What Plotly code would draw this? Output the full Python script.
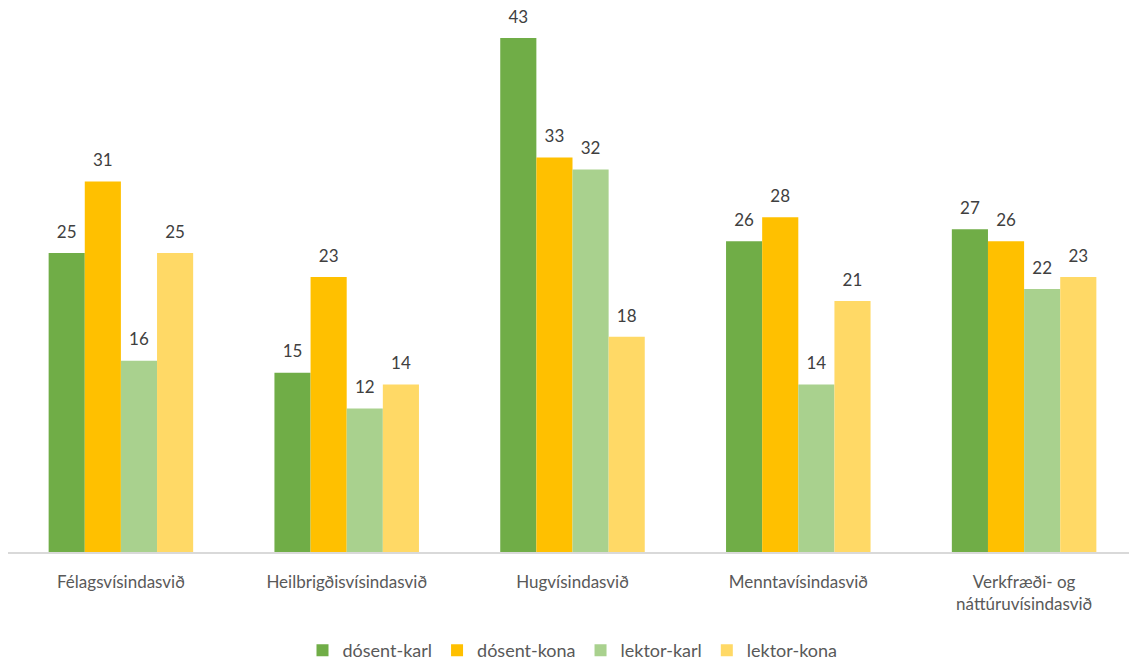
import plotly.graph_objects as go

categories = [
    "Félagsvísindasvið",
    "Heilbrigðisvísindasvið",
    "Hugvísindasvið",
    "Menntavísindasvið",
    "Verkfræði- og<br>náttúruvísindasvið",
]
dosent_karl = [25, 15, 43, 26, 27]
dosent_kona = [31, 23, 33, 28, 26]
lektor_karl = [16, 12, 32, 14, 22]
lektor_kona = [25, 14, 18, 21, 23]

series = [
    ("dósent-karl", dosent_karl, "#70AD47"),
    ("dósent-kona", dosent_kona, "#FFC000"),
    ("lektor-karl", lektor_karl, "#A9D18E"),
    ("lektor-kona", lektor_kona, "#FFD966"),
]

FONT = "Lato, Open Sans, sans-serif"

fig = go.Figure()
for name, vals, color in series:
    fig.add_trace(
        go.Bar(
            x=categories,
            y=vals,
            name=name,
            offsetgroup=name,
            marker=dict(color=color, line=dict(width=0)),
            hoverinfo="skip",
        )
    )
# value labels as grouped text points, so they sit a little higher than bar text
for name, vals, color in series:
    fig.add_trace(
        go.Scatter(
            x=categories,
            y=vals,
            offsetgroup=name,
            mode="markers+text",
            marker=dict(size=16, color="rgba(0,0,0,0)"),
            text=vals,
            textposition="top center",
            textfont=dict(color="#404040", size=17, family=FONT),
            showlegend=False,
            hoverinfo="skip",
            cliponaxis=False,
        )
    )

# page body has an 8px margin, so the figure is sized to fit the window
fig.update_layout(
    barmode="group",
    bargap=0.36,
    bargroupgap=0,
    scattermode="group",
    scattergap=0.36,
    width=1129,
    height=653,
    plot_bgcolor="white",
    paper_bgcolor="white",
    margin=dict(t=6, l=0, r=0, b=109, autoexpand=False),
    font=dict(family=FONT, color="#595959", size=16),
    legend=dict(
        orientation="h",
        x=0.5,
        xanchor="center",
        y=-0.149,
        yanchor="top",
        font=dict(size=18, color="#595959"),
        itemwidth=30,
        tracegroupgap=0,
    ),
)
fig.update_xaxes(
    showline=True,
    linecolor="#D9D9D9",
    linewidth=1.5,
    ticks="",
    automargin=False,
    ticklabelstandoff=14,
    tickfont=dict(size=17, color="#595959"),
    fixedrange=True,
)
fig.update_yaxes(visible=False, range=[0, 45], showgrid=False, fixedrange=True)

fig.write_html("out.html")
